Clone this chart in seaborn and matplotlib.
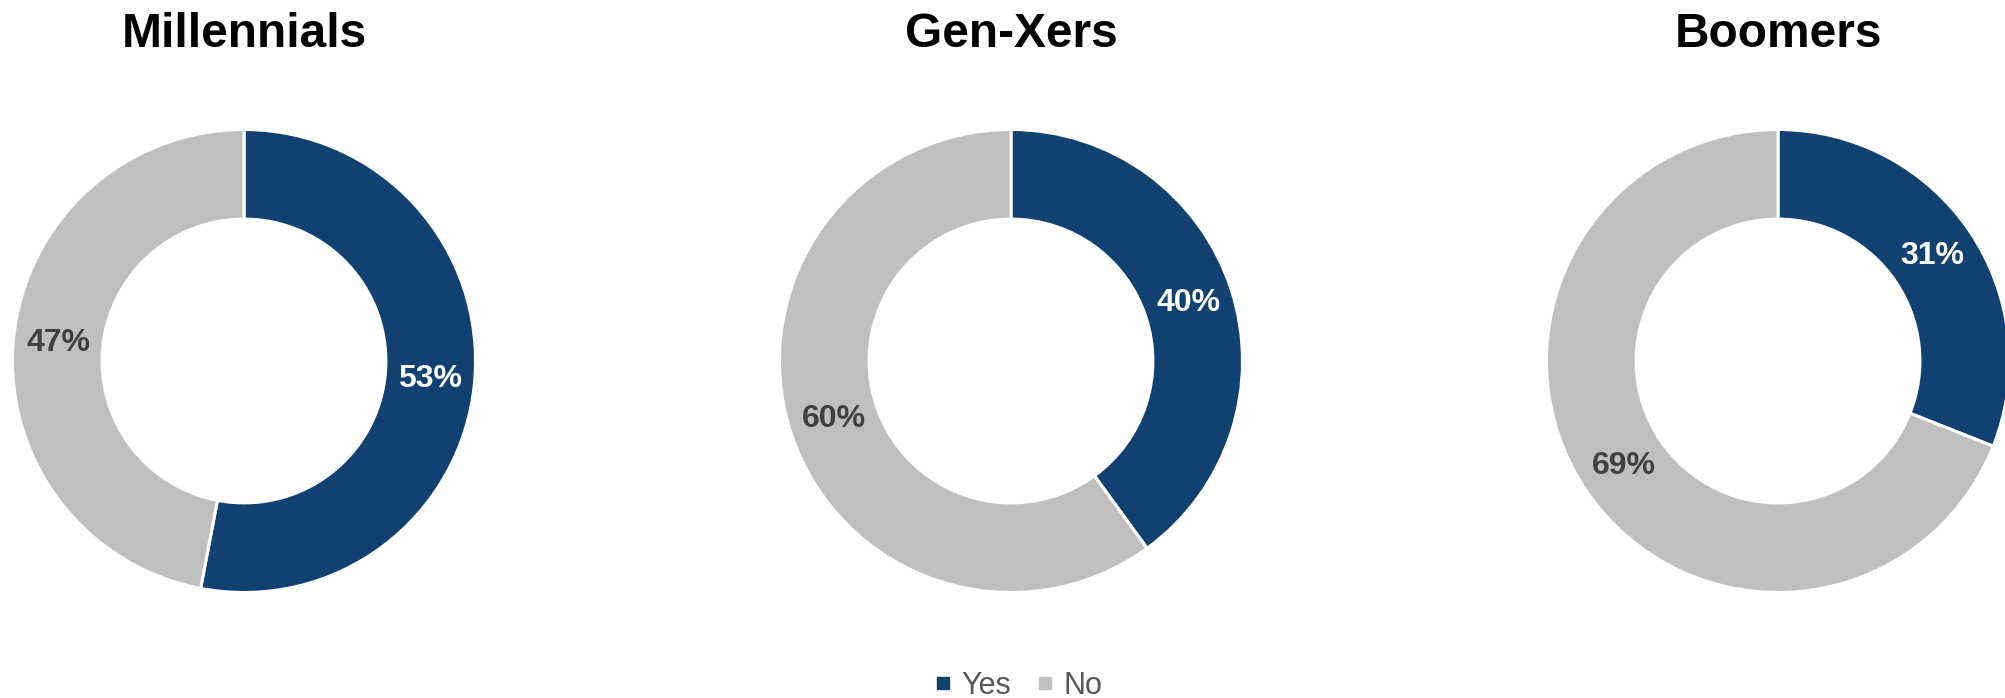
import matplotlib
matplotlib.use("Agg")
import matplotlib.pyplot as plt
from matplotlib.lines import Line2D
import seaborn as sns

# Survey shares per generation (percent answering Yes / No)
generations = ["Millennials", "Gen-Xers", "Boomers"]
answers = ["Yes", "No"]
yes_share = [53, 40, 31]
no_share = [47, 60, 69]

sns.set_theme(style="white")
plt.rcParams["font.family"] = ["Liberation Sans", "DejaVu Sans"]

colors = {"Yes": "#104170", "No": "#BFBFBF"}
label_colors = {"Yes": "white", "No": "#404040"}

W, H = 2005, 698
fig = plt.figure(figsize=(W / 100, H / 100), dpi=100)

centers_x = [244, 1011, 1778]
center_y = 361
radius_px = 231.5

for i, gen in enumerate(generations):
    cx = centers_x[i]
    ax = fig.add_axes([(cx - radius_px) / W, (H - center_y - radius_px) / H,
                       2 * radius_px / W, 2 * radius_px / H])
    vals = [yes_share[i], no_share[i]]
    wedges, texts, autotexts = ax.pie(
        vals,
        colors=[colors[a] for a in answers],
        startangle=90,
        counterclock=False,
        radius=1.0,
        autopct="%.0f%%",
        pctdistance=0.806,
        wedgeprops=dict(width=0.387, edgecolor="white", linewidth=2.2),
    )
    for a, t in zip(answers, autotexts):
        t.set_color(label_colors[a])
        t.set_fontsize(23)
        t.set_fontweight("bold")
    ax.set_xlim(-1, 1)
    ax.set_ylim(-1, 1)
    ax.set_aspect("equal")
    ax.axis("off")
    fig.text(cx / W, 1 - 47 / H, gen, ha="center", va="baseline",
             fontsize=34.5, fontweight="bold", color="black")

handles = [Line2D([0], [0], marker="s", linestyle="none", markersize=8.5,
                  markerfacecolor=colors[a], markeredgecolor=colors[a])
           for a in answers]
leg = fig.legend(handles, answers, loc="center",
                 bbox_to_anchor=(1018 / W, 1 - 686 / H), ncol=2, frameon=False,
                 fontsize=22, handlelength=0.6, handletextpad=0.3,
                 columnspacing=0.8, borderpad=0, borderaxespad=0)
for t in leg.get_texts():
    t.set_color("#595959")

fig.savefig("out.png", dpi=100)
